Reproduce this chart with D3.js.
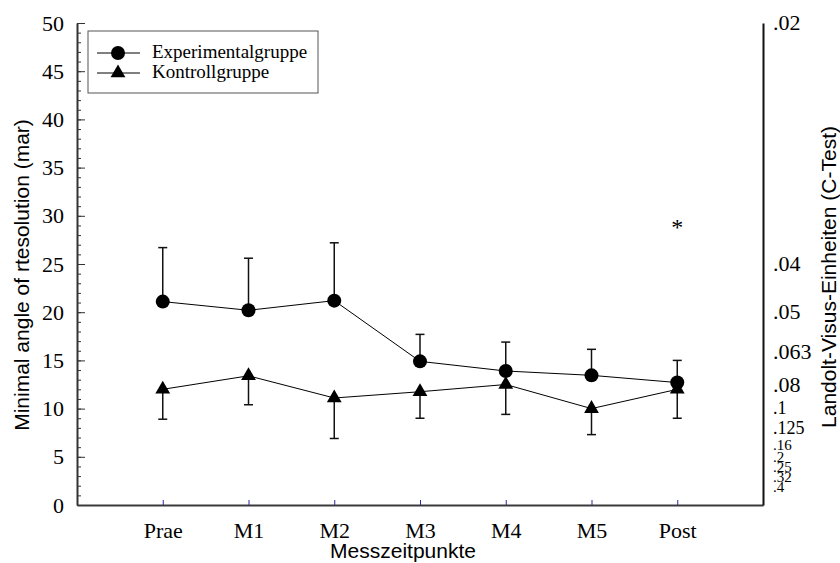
<!DOCTYPE html>
<html>
<head>
<meta charset="utf-8">
<title>Messzeitpunkte</title>
<style>
  body { margin: 0; background: #fff; }
  svg text { fill: #000; }
  .serif { font-family: "Liberation Serif", "DejaVu Serif", serif; }
  .sans { font-family: "Liberation Sans", Arial, sans-serif; }
</style>
</head>
<body>
<script src="https://cdn.jsdelivr.net/npm/d3@7/dist/d3.min.js"></script>
<script>
// data
var categories = ["Prae", "M1", "M2", "M3", "M4", "M5", "Post"];
var expMean = [21.1, 20.2, 21.2, 14.9, 13.9, 13.45, 12.7];
var expSD   = [5.6, 5.4, 6.0, 2.8, 3.0, 2.7, 2.3];
var ctrlMean = [12.0, 13.4, 11.1, 11.75, 12.5, 10.0, 12.0];
var ctrlSD   = [3.1, 3.0, 4.2, 2.75, 3.1, 2.7, 3.0];
var leftTicks = [0, 5, 10, 15, 20, 25, 30, 35, 40, 45, 50];
var visusValues = [0.02, 0.04, 0.05, 0.063, 0.08, 0.1, 0.125, 0.16, 0.2, 0.25, 0.32, 0.4];
var visusLabels = [".02", ".04", ".05", ".063", ".08", ".1", ".125", ".16", ".2", ".25", ".32", ".4"];
var starCategory = "Post", starValue = 28;

// plot frame (window.top is reserved, hence the names)
var width = 840, height = 563;
var plotLeft = 77, plotRight = 763, plotTop = 23, plotBottom = 505;

var svg = d3.select("body").append("svg")
  .attr("width", width)
  .attr("height", height);

var x = d3.scalePoint().domain(categories).range([plotLeft, plotRight]).padding(1);
var y = d3.scaleLinear().domain([0, 50]).range([plotBottom, plotTop]);

// left axis: minor ticks then major ticks with labels
svg.append("g")
  .attr("transform", "translate(" + plotLeft + ",0)")
  .call(d3.axisLeft(y).tickValues(d3.range(0, 51)).tickSize(-4).tickFormat(""))
  .call(function(g) {
    g.select(".domain").remove();
    g.selectAll("line").attr("stroke", "#333").attr("stroke-width", 1);
  });

svg.append("g")
  .attr("transform", "translate(" + plotLeft + ",0)")
  .call(d3.axisLeft(y).tickValues(leftTicks).tickSize(-8).tickSizeOuter(0).tickPadding(13))
  .call(function(g) {
    g.select(".domain").attr("stroke", "#333").attr("stroke-width", 2);
    g.selectAll("line").attr("stroke", "#333").attr("stroke-width", 1);
    g.selectAll("text").attr("class", "serif").attr("font-size", 22).attr("fill", "#000");
  });

// bottom axis
svg.append("g")
  .attr("transform", "translate(0," + plotBottom + ")")
  .call(d3.axisBottom(x).tickSize(-5).tickSizeOuter(0).tickPadding(17))
  .call(function(g) {
    g.select(".domain").attr("stroke", "#3a3a3a").attr("stroke-width", 2);
    g.selectAll("line").attr("stroke", "#2a2aa0").attr("stroke-width", 1);
    g.selectAll("text").attr("class", "serif").attr("font-size", 22).attr("fill", "#000");
  });

// right axis: Landolt visus values placed at mar = 1 / visus
var rightAxis = svg.append("g")
  .attr("transform", "translate(" + plotRight + ",0)")
  .call(d3.axisRight(y)
    .tickValues(visusValues.map(function(v) { return 1 / v; }))
    .tickFormat(function(d, i) { return visusLabels[i]; })
    .tickSize(0).tickPadding(10))
  .call(function(g) {
    g.select(".domain").attr("stroke", "#111").attr("stroke-width", 2);
    g.selectAll("text")
      .attr("class", "serif")
      .attr("fill", "#000")
      .attr("font-size", function(d) {
        var v = 1 / d;
        return v < 0.09 ? 22 : (v < 0.15 ? 18 : 15);
      });
  });

// the smallest labels crowd together: push each one down a little if needed
var lastY = -Infinity;
rightAxis.selectAll(".tick").each(function(d) {
  var ty = y(d);
  if (ty - lastY < 10) ty = lastY + 10;
  d3.select(this).attr("transform", "translate(0," + ty + ")");
  lastY = ty;
});

// axis titles
svg.append("text")
  .attr("class", "sans")
  .attr("font-size", 21)
  .attr("text-anchor", "middle")
  .attr("transform", "translate(29,275) rotate(-90)")
  .text("Minimal angle of rtesolution (mar)");

svg.append("text")
  .attr("class", "sans")
  .attr("font-size", 21)
  .attr("text-anchor", "middle")
  .attr("transform", "translate(836,277) rotate(-90)")
  .text("Landolt-Visus-Einheiten (C-Test)");

svg.append("text")
  .attr("class", "sans")
  .attr("font-size", 21)
  .attr("text-anchor", "middle")
  .attr("x", 403)
  .attr("y", 558)
  .text("Messzeitpunkte");

// error bars
function errorBars(means, sds, dir) {
  var g = svg.append("g").attr("stroke", "#111").attr("stroke-width", 1.5);
  categories.forEach(function(c, i) {
    var end = means[i] + dir * sds[i];
    g.append("line")
      .attr("x1", x(c)).attr("x2", x(c))
      .attr("y1", y(means[i])).attr("y2", y(end));
    g.append("line")
      .attr("x1", x(c) - 4.5).attr("x2", x(c) + 4.5)
      .attr("y1", y(end)).attr("y2", y(end));
  });
}
errorBars(expMean, expSD, 1);
errorBars(ctrlMean, ctrlSD, -1);

// lines
var line = d3.line()
  .x(function(d, i) { return x(categories[i]); })
  .y(function(d) { return y(d); });

svg.append("path").datum(expMean)
  .attr("d", line).attr("fill", "none").attr("stroke", "#000").attr("stroke-width", 1);
svg.append("path").datum(ctrlMean)
  .attr("d", line).attr("fill", "none").attr("stroke", "#000").attr("stroke-width", 1);

// markers
var tri = d3.symbol().type(d3.symbolTriangle).size(95);

svg.selectAll(".exp").data(expMean).enter().append("circle")
  .attr("class", "exp")
  .attr("cx", function(d, i) { return x(categories[i]); })
  .attr("cy", function(d) { return y(d); })
  .attr("r", 7)
  .attr("fill", "#000");

svg.selectAll(".ctrl").data(ctrlMean).enter().append("path")
  .attr("class", "ctrl")
  .attr("d", tri)
  .attr("transform", function(d, i) { return "translate(" + x(categories[i]) + "," + y(d) + ")"; })
  .attr("fill", "#000");

// significance star
svg.append("text")
  .attr("class", "serif")
  .attr("font-size", 24)
  .attr("text-anchor", "middle")
  .attr("x", x(starCategory))
  .attr("y", y(starValue))
  .text("*");

// legend
var legend = svg.append("g");
legend.append("rect")
  .attr("x", 88).attr("y", 31).attr("width", 230).attr("height", 62)
  .attr("fill", "#fff").attr("stroke", "#555").attr("stroke-width", 1);

var legendItems = [
  { label: "Experimentalgruppe", shape: "circle" },
  { label: "Kontrollgruppe", shape: "triangle" }
];
legendItems.forEach(function(it, i) {
  var ly = 53 + i * 20;
  legend.append("line")
    .attr("x1", 97).attr("x2", 140).attr("y1", ly).attr("y2", ly)
    .attr("stroke", "#000").attr("stroke-width", 1);
  if (it.shape === "circle") {
    legend.append("circle").attr("cx", 118).attr("cy", ly).attr("r", 7).attr("fill", "#000");
  } else {
    legend.append("path").attr("d", tri)
      .attr("transform", "translate(118," + ly + ")").attr("fill", "#000");
  }
  legend.append("text")
    .attr("class", "serif")
    .attr("font-size", 19)
    .attr("x", 152)
    .attr("y", ly + 5)
    .text(it.label);
});
</script>
</body>
</html>
